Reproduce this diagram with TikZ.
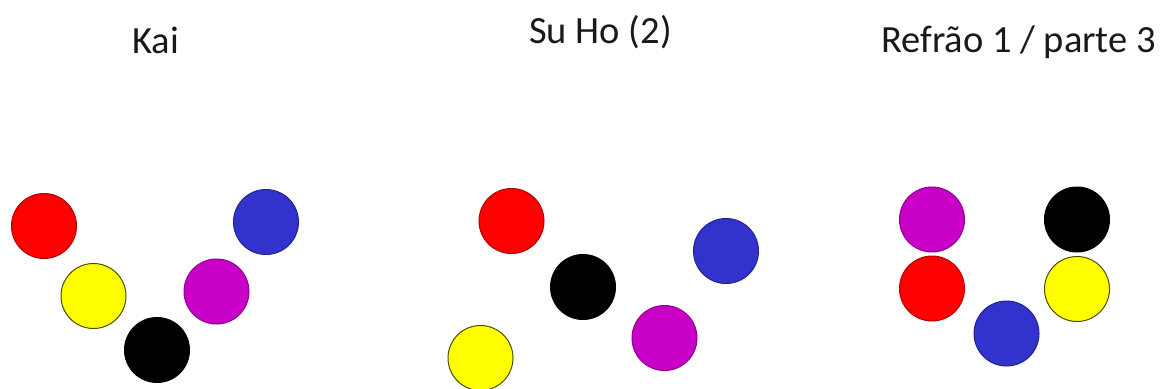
\documentclass[tikz,border=0pt]{standalone}
\usepackage{fontspec}
\setmainfont{Carlito}
\definecolor{cred}{RGB}{255,0,0}
\definecolor{cyel}{RGB}{255,255,0}
\definecolor{cmag}{RGB}{200,0,200}
\definecolor{cblu}{RGB}{50,50,205}
\definecolor{cblk}{RGB}{0,0,0}
\tikzset{
  dot/.style={circle,inner sep=0pt,minimum size=65pt,line width=1pt},
  dred/.style={dot,fill=cred,draw=cred!70!black},
  dyel/.style={dot,fill=cyel,draw=cyel!30!black},
  dmag/.style={dot,fill=cmag,draw=cmag!70!black},
  dblu/.style={dot,fill=cblu,draw=cblu!70!black},
  dblk/.style={dot,fill=cblk,draw=cblk},
  ttl/.style={anchor=base,inner sep=0pt,font=\fontsize{38.5}{46}\selectfont,text=black!90}
}
\begin{document}
\begin{tikzpicture}[x=1pt,y=-1pt]
\useasboundingbox (0,0) rectangle (1161,388);
\clip (0,0) rectangle (1161,388);
% titles
\node[ttl] (t1) at (155.5,53) {Kai};
\node[ttl] (t2) at (600.5,43) {Su Ho (2)};
\node[ttl] (t3) at (1018.5,52) {Refrão 1 / parte 3};
% Kai
\node[dred] (k1) at (44,226) {};
\node[dyel] (k2) at (93.5,296) {};
\node[dblk] (k3) at (157,350) {};
\node[dmag] (k4) at (216.5,291.5) {};
\node[dblu] (k5) at (266,222) {};
% Su Ho
\node[dred] (s1) at (511.5,221) {};
\node[dblk] (s2) at (583,287) {};
\node[dblu] (s3) at (726,251) {};
\node[dmag] (s4) at (664.5,338) {};
\node[dyel] (s5) at (480.5,358) {};
% Refrao
\node[dmag] (r1) at (932,219.5) {};
\node[dblk] (r2) at (1077,219.5) {};
\node[dred] (r3) at (932,288.5) {};
\node[dyel] (r4) at (1077,289) {};
\node[dblu] (r5) at (1006.5,333.5) {};
\end{tikzpicture}
\end{document}
